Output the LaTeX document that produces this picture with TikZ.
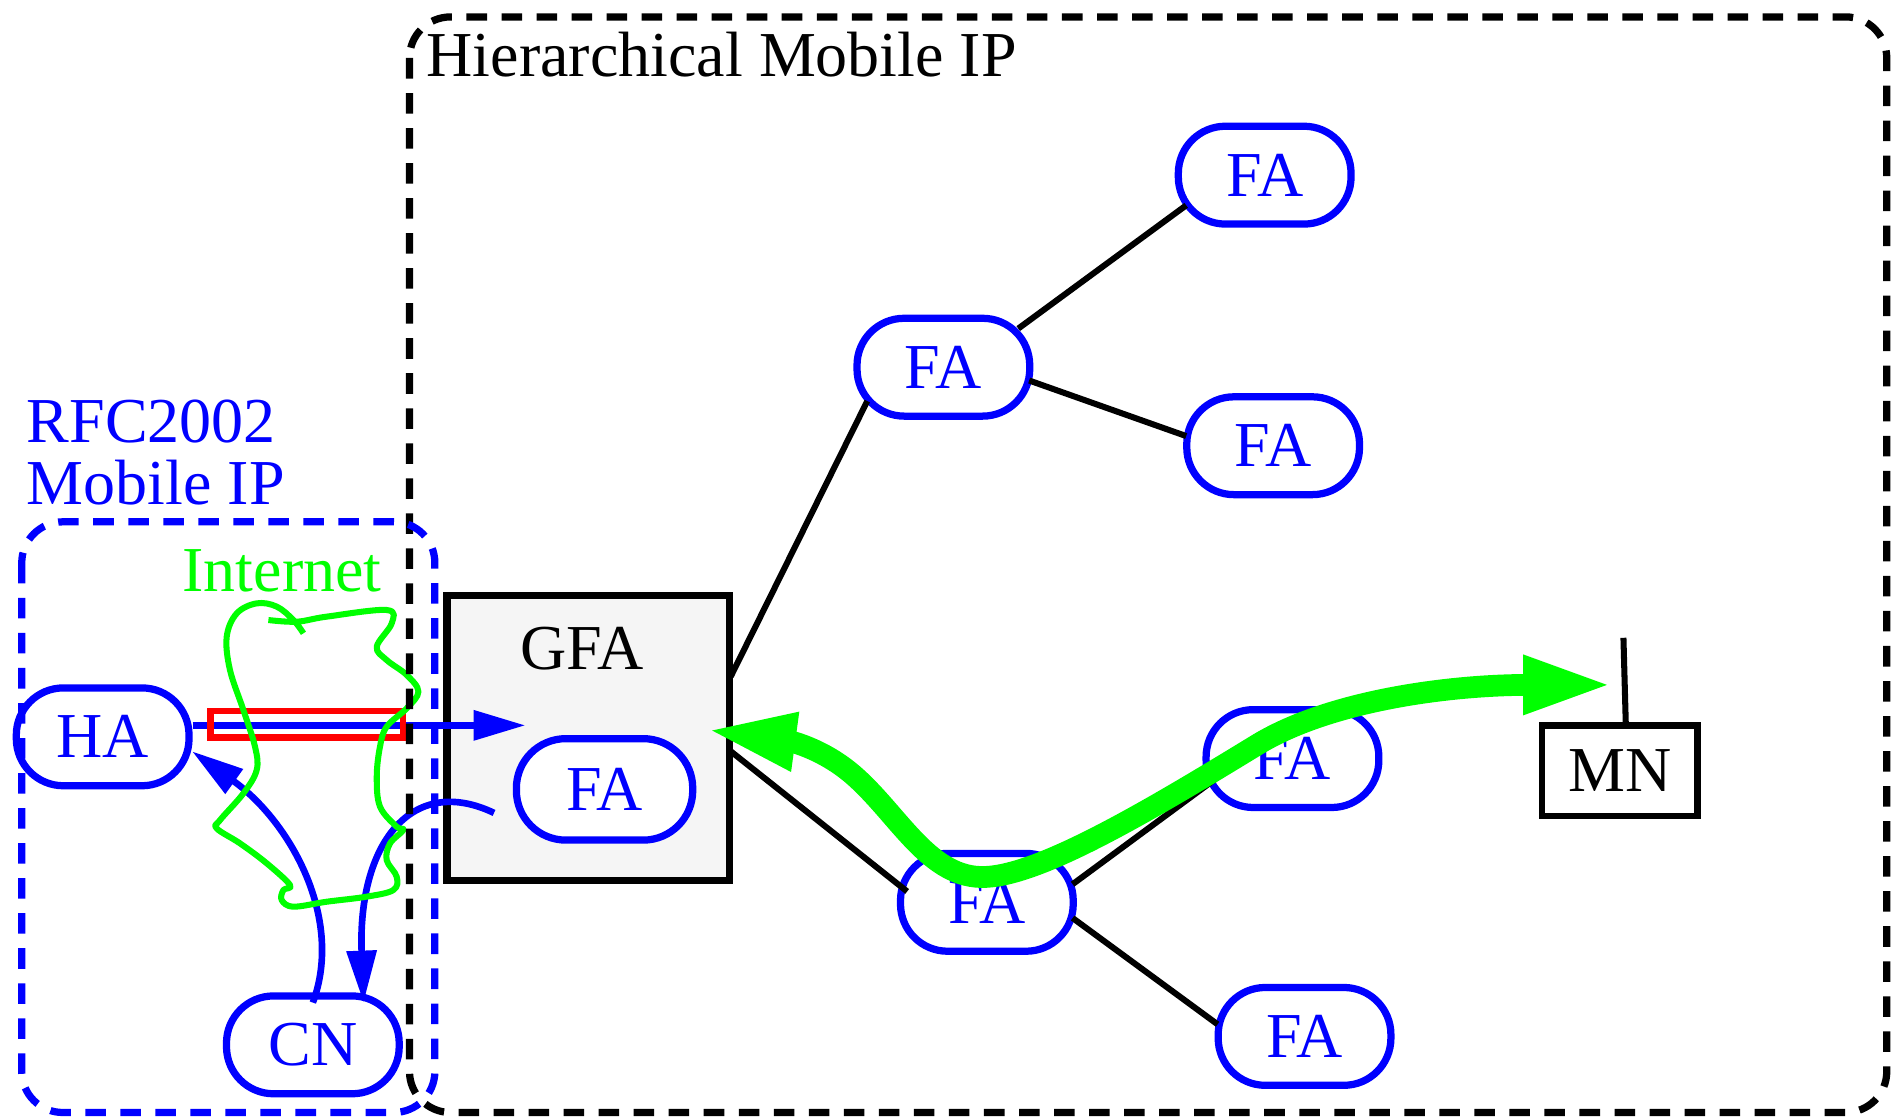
\documentclass[tikz,border=0pt]{standalone}
\usepackage{fontspec}
\setmainfont{Liberation Serif}
\usetikzlibrary{arrows.meta,calc}
\definecolor{pblue}{RGB}{0,0,255}
\definecolor{pgreen}{RGB}{0,255,0}
\definecolor{pred}{RGB}{255,0,0}
\definecolor{gfafill}{RGB}{245,245,245}
\begin{document}
\begin{tikzpicture}[x=1pt,y=-1pt,
  every node/.style={font=\fontsize{53}{53}\selectfont, inner sep=0pt},
  fanode/.style={draw=pblue, line width=6pt, rounded corners=39pt, minimum width=143pt, minimum height=81pt, text=pblue, fill=white},
  link/.style={line width=5pt, draw=black},
  bluearrow/.style={draw=pblue, line width=5.5pt, -{Triangle[length=43pt,width=24pt]}},
  greenarrow/.style={draw=pgreen, line width=18pt, {Triangle[length=75pt,width=44pt]}-{Triangle[length=75pt,width=44pt]}},
  region/.style={dash pattern=on 17pt off 12pt, line width=6pt, rounded corners=34pt},
  lbl/.style={anchor=base west},
]
\useasboundingbox (0,0) rectangle (1568,926);

% GFA box and nodes
\node[draw=black, line width=6pt, fill=gfafill, minimum width=234pt, minimum height=236pt] (gfa) at (487,611) {};
\node (gfatext) at (482,537) {GFA};
\node[fanode, minimum width=146pt, minimum height=84pt, rounded corners=41pt] (fa0) at (500.5,653.5) {FA};
\node[fanode] (ha) at (85,610) {HA};
\node[fanode] (cn) at (259,865) {CN};
\node[fanode] (fa1) at (1047,145) {FA};
\node[fanode] (fa2) at (781,304) {FA};
\node[fanode] (fa3) at (1054,369) {FA};
\node[fanode] (fa4) at (1070,628) {FA};
\node[fanode] (fa5) at (817,747) {FA};
\node[fanode] (fa6) at (1080,858) {FA};
\node[draw=black, line width=5.5pt, minimum width=129pt, minimum height=75pt, fill=white] (mn) at (1341,638) {MN};

% tree links
\draw[link] ($(gfa)+(118,-51)$) -- ($(fa2)+(-63,28)$);
\draw[link] ($(fa2)+(62,-32)$) -- ($(fa1)+(-65,25)$);
\draw[link] ($(fa2)+(71,11)$) -- ($(fa3)+(-72,-8)$);
\draw[link] ($(gfa)+(118,11)$) -- ($(fa5)+(-66,-9)$);
\draw[link] ($(fa5)+(71,-15)$) -- ($(fa4)+(-64,17)$);
\draw[link] ($(fa5)+(71,13)$) -- ($(fa6)+(-72,-10)$);

% tunnel
\coordinate (tip1) at (435,600.5);
\draw[bluearrow] (ha.east |- tip1) -- (tip1);
\node[draw=pred, line width=5.5pt, minimum width=159pt, minimum height=22pt] (tunnel) at (254,599.5) {};

% blue curved arrows
\draw[bluearrow] ($(cn)+(0,-35)$) .. controls (285,760) and (240,680) .. ($(ha)+(74,12)$);
\draw[bluearrow] ($(fa0)+(-91.5,19.5)$) .. controls (340,640) and (296,700) .. ($(cn)+(42,-35)$);

% internet cloud
\draw[pgreen, line width=5pt, line join=round, line cap=butt] plot[smooth, tension=0.6] coordinates {
(222.2,513.3) (245.6,514.7) (270.5,510.5) (320.1,505.0) (324.3,516.0) (311.9,535.4)
(320.1,546.4) (336.7,558.8) (346.4,572.6) (336.7,586.4) (320.1,601.6) (314.6,618.1)
(311.9,643.0) (314.6,667.8) (328.4,684.4) (333.9,687.1) (322.9,698.2) (320.1,712.0)
(328.4,725.8) (325.7,736.8) (303.6,742.3) (270.5,746.5) (242.9,750.6) (233.2,745.1)
(234.6,736.8) (240.1,732.7) (220.8,714.7) (198.7,698.2) (179.4,685.8) (182.2,678.9)
(201.5,656.8) (212.5,637.5) (211.1,618.1) (201.5,587.8) (190.4,554.7) (187.7,527.1)
(196.0,507.8) (212.5,499.5) (229.1,502.2) (242.9,513.3) (251.2,524.3)};

% regions
\draw[region, draw=black] (339,14) rectangle (1562,921);
\draw[region, draw=pblue] (18,432) rectangle (360,921);

% labels
\node[lbl] (hmip) at (353,63) {Hierarchical Mobile IP};
\node[lbl, text=pblue] (rfc1) at (22,366) {RFC2002};
\node[lbl, text=pblue] (rfc2) at (22,418) {Mobile IP};
\node[lbl, text=pgreen] (inet) at (151,490) {Internet};

% green path
\coordinate (gl) at ($(gfa.east)+(-23,-7)$);
\coordinate (gr) at (1336,567);
\draw[greenarrow] (gl) .. controls (650,613) and (680,618) .. (708,643)
  .. controls (745,676) and (770,728) .. (816,726)
  .. controls (862,724) and (950,672) .. (1040,617)
  .. controls (1100,580) and (1200,567) .. (gr);

% MN antenna
\coordinate (ant) at (1344,528);
\draw[link] ($(mn.north)+(5,3.5)$) -- (ant);
\end{tikzpicture}
\end{document}
